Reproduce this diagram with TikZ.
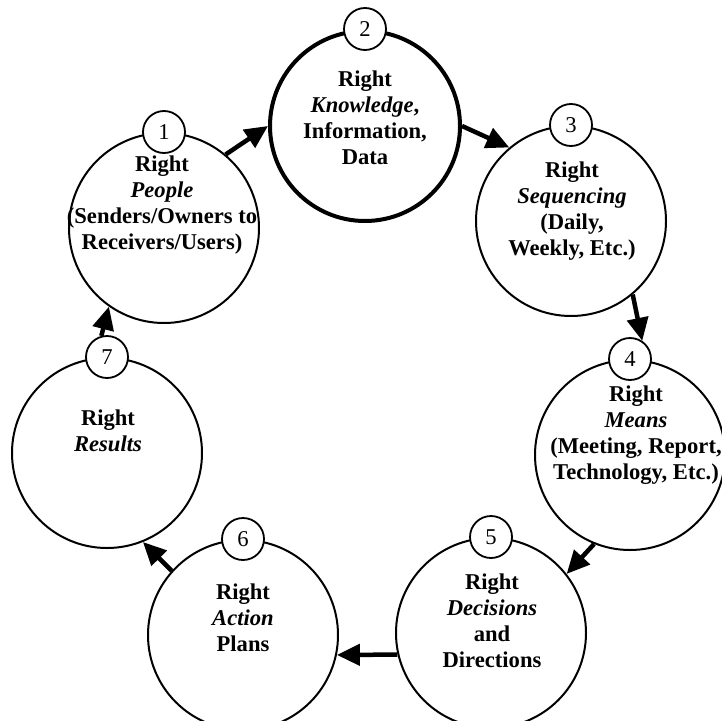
\documentclass[tikz,border=0pt]{standalone}
\usepackage{fontspec}
\setmainfont{Liberation Serif}
\usetikzlibrary{arrows.meta}
\begin{document}
\begin{tikzpicture}[x=1pt,y=-1pt,
  bigc/.style={circle,draw,line width=2pt,minimum size=190pt,inner sep=0pt},
  numc/.style={circle,draw,line width=1.8pt,fill=white,minimum size=42pt,inner sep=0pt,
    font=\fontsize{22.6}{26}\selectfont},
  lbl/.style={anchor=north,inner sep=0pt,align=center,
    font=\fontsize{22.6}{26}\selectfont\bfseries},
  flow/.style={line width=4.5pt,-{Triangle[length=23pt,width=21pt]}}
]
\useasboundingbox (0,0) rectangle (722,720);

% the seven stages
\node[bigc] (c1) at (164,228) {};
\node[bigc,line width=4pt] (c2) at (365,126) {};
\node[bigc] (c3) at (571,221) {};
\node[bigc] (c4) at (630,455) {};
\node[bigc] (c5) at (491,633) {};
\node[bigc] (c6) at (243,635) {};
\node[bigc] (c7) at (107,453) {};

% numbered badges on top of each stage
\node[numc] (n1) at (c1.north) {1};
\node[numc] (n2) at (c2.north) {2};
\node[numc] (n3) at (c3.north) {3};
\node[numc] (n4) at (c4.north) {4};
\node[numc] (n5) at (c5.north) {5};
\node[numc] (n6) at (c6.north) {6};
\node[numc] (n7) at (c7.north) {7};

% stage texts
\node[lbl] (t1) at (162,156) {Right\\\textit{People}\\(Senders/Owners to\\Receivers/Users)};
\node[lbl] (t2) at (365,71) {Right\\\textit{Knowledge},\\Information,\\Data};
\node[lbl] (t3) at (572,162) {Right\\\textit{Sequencing}\\(Daily,\\Weekly, Etc.)};
\node[lbl] (t4) at (636,386) {Right\\\textit{Means}\\(Meeting, Report,\\Technology, Etc.)};
\node[lbl] (t5) at (492,574) {Right\\\textit{Decisions}\\and\\Directions};
\node[lbl] (t6) at (243,584) {Right\\\textit{Action}\\Plans};
\node[lbl] (t7) at (108,410) {Right\\\textit{Results}};

% the cycle
\draw[flow] (c1.50) -- (c2.180);
\draw[flow] (c2.0) -- (c3.130);
\draw[flow] (c3.-50) -- (n4.56);
\draw[flow] (c4.-112) -- (c5.38);
\draw[flow] (c5.193) -- (c6.-12);
\draw[flow] (c6.138) -- (c7.-68);
\draw[flow] (n7.105) -- (c1.-125);
\end{tikzpicture}
\end{document}
